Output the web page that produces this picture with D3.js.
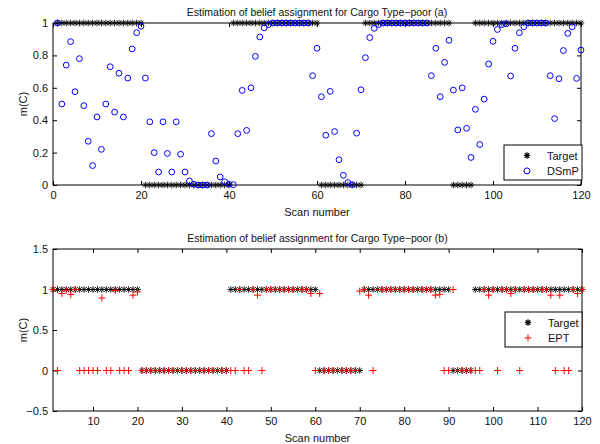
<!DOCTYPE html>
<html>
<head>
<meta charset="utf-8">
<script src="https://cdn.jsdelivr.net/npm/d3@7"></script>
<style>
body{margin:0;background:#fff;}
svg{font-family:"Liberation Sans",Arial,sans-serif;}
</style>
</head>
<body>
<div id="chart"></div>
<script>
// scan numbers 1..120
var scans = d3.range(1, 121);

// ground truth (same in both panels)
var target = [
  1,1,1,1,1,1,1,1,1,1, 1,1,1,1,1,1,1,1,1,1,
  0,0,0,0,0,0,0,0,0,0, 0,0,0,0,0,0,0,0,0,0,
  1,1,1,1,1,1,1,1,1,1, 1,1,1,1,1,1,1,1,1,1,
  0,0,0,0,0,0,0,0,0,0,
  1,1,1,1,1,1,1,1,1,1, 1,1,1,1,1,1,1,1,1,1,
  0,0,0,0,0,
  1,1,1,1,1,1,1,1,1,1, 1,1,1,1,1,1,1,1,1,1, 1,1,1,1,1
];

// panel (a)
var dsmp = [
  1.0, 0.50, 0.74, 0.885, 0.576, 0.78, 0.49, 0.27, 0.12, 0.42,
  0.22, 0.50, 0.73, 0.45, 0.69, 0.42, 0.66, 0.84, 0.94, 0.98,
  0.66, 0.39, 0.20, 0.08, 0.39, 0.195, 0.08, 0.39, 0.19, 0.08,
  0.025, 0.005, 0.0, 0.0, 0.0, 0.317, 0.148, 0.05, 0.02, 0.005,
  0.002, 0.317, 0.584, 0.337, 0.60, 0.794, 0.914, 0.97, 0.99, 1.0,
  1.0, 1.0, 1.0, 1.0, 1.0, 1.0, 1.0, 1.0, 0.675, 0.844,
  0.545, 0.307, 0.578, 0.33, 0.156, 0.06, 0.015, 0.002, 0.32, 0.588,
  0.786, 0.91, 0.967, 0.99, 1.0, 1.0, 1.0, 1.0, 1.0, 1.0,
  1.0, 1.0, 1.0, 1.0, 1.0, 0.675, 0.844, 0.545, 0.757, 0.893,
  0.586, 0.34, 0.60, 0.35, 0.17, 0.467, 0.25, 0.53, 0.747, 0.887,
  0.96, 0.99, 0.995, 0.673, 0.844, 0.94, 0.977, 1.0, 1.0, 1.0,
  1.0, 1.0, 0.675, 0.41, 0.656, 0.83, 0.936, 0.977, 0.658, 0.833
];

// panel (b)
var ept = [
  1.0, 0, 0.95, 0.99, 0.94, 1.0, 0, 0, 0, 0,
  0, 0.895, 0, 0, 0.99, 0, 0, 0, 0.93, 0.97,
  0, 0, 0, 0, 0, 0, 0, 0, 0, 0,
  0, 0, 0, 0, 0, 0, 0, 0, 0, 0,
  0, 0, 1.0, 0, 0, 1.0, 0.93, 0, 1.0, 1.0,
  1.0, 1.0, 1.0, 1.0, 1.0, 1.0, 1.0, 1.0, 0.95, 0,
  0.95, 0, 0, 0, 0, 0, 0, 0, 0, 0.98,
  1.0, 0.93, 0, 1.0, 1.0, 1.0, 1.0, 1.0, 1.0, 1.0,
  1.0, 1.0, 1.0, 1.0, 1.0, 1.0, 0.93, 0.94, 0, 0,
  1.0, 0, 0, 0, 0, 0, 0, 1.0, 0.93, 1.0,
  0, 1.0, 1.0, 0.95, 1.0, 0, 1.0, 1.0, 1.0, 1.0,
  1.0, 1.0, 0.93, 0, 0.93, 0, 0, 1.0, 0.95, 1.0
];

var xTicksA = [0, 20, 40, 60, 80, 100, 120];
var yTicksA = [0, 0.2, 0.4, 0.6, 0.8, 1];
var xTicksB = [10, 20, 30, 40, 50, 60, 70, 80, 90, 100, 110, 120];
var yTicksB = [-0.5, 0, 0.5, 1, 1.5];

var titleA = "Estimation of belief assignment for Cargo Type\u2212poor (a)";
var titleB = "Estimation of belief assignment for Cargo Type\u2212poor (b)";

var W = 600, H = 444;
var svg = d3.select("#chart").append("svg").attr("width", W).attr("height", H);

// matlab style asterisk
function star(s){
  var r = s/2, d = r*0.7071;
  return "M"+(-r)+",0H"+r+"M0,"+(-r)+"V"+r+
         "M"+(-d)+","+(-d)+"L"+d+","+d+"M"+(-d)+","+d+"L"+d+","+(-d);
}
function plus(s){
  var r = s/2;
  return "M"+(-r)+",0H"+r+"M0,"+(-r)+"V"+r;
}

function panel(o){
  var g = svg.append("g");
  var x = d3.scaleLinear().domain(o.xDomain).range([o.left, o.right]);
  var y = d3.scaleLinear().domain(o.yDomain).range([o.bottom, o.top]);
  var fmt = d3.format("");

  // inward ticks on all four sides
  g.append("g").attr("class","ax").attr("transform","translate(0,"+o.bottom+")")
    .call(d3.axisBottom(x).tickValues(o.xTicks).tickSize(-4).tickSizeOuter(0).tickPadding(6).tickFormat(fmt));
  g.append("g").attr("class","ax").attr("transform","translate(0,"+o.top+")")
    .call(d3.axisTop(x).tickValues(o.xTicks).tickSize(-4).tickSizeOuter(0).tickFormat(""));
  g.append("g").attr("class","ax").attr("transform","translate("+o.left+",0)")
    .call(d3.axisLeft(y).tickValues(o.yTicks).tickSize(-4).tickSizeOuter(0).tickPadding(5).tickFormat(fmt));
  g.append("g").attr("class","ax").attr("transform","translate("+o.right+",0)")
    .call(d3.axisRight(y).tickValues(o.yTicks).tickSize(-4).tickSizeOuter(0).tickFormat(""));
  g.selectAll(".ax .domain").remove();
  g.selectAll(".ax line").attr("stroke","#000");
  g.selectAll(".ax text").attr("fill","#111").style("font-size","11px")
    .style("font-family","'Liberation Sans',Arial,sans-serif");

  g.append("rect")
    .attr("x", o.left).attr("y", o.top)
    .attr("width", o.right-o.left).attr("height", o.bottom-o.top)
    .attr("fill","none").attr("stroke","#000").attr("stroke-width",1);

  // title and labels
  g.append("text").attr("x",(o.left+o.right)/2).attr("y",o.top-7)
    .attr("text-anchor","middle").style("font-size","10.5px").attr("fill","#111")
    .text(o.title);
  g.append("text").attr("x",(o.left+o.right)/2).attr("y",o.bottom+31)
    .attr("text-anchor","middle").style("font-size","11px").attr("fill","#111")
    .text("Scan number");
  g.append("text")
    .attr("transform","translate(27,"+((o.top+o.bottom)/2)+") rotate(-90)")
    .attr("text-anchor","middle").style("font-size","11px").attr("fill","#111")
    .text("m(C)");

  // target asterisks
  g.append("g").selectAll("path").data(scans).enter().append("path")
    .attr("transform", function(d,i){ return "translate("+x(d)+","+y(target[i])+")"; })
    .attr("d", star(6.5)).attr("fill","none").attr("stroke","#000").attr("stroke-width",0.9);

  // estimate
  if (o.kind == "circle"){
    g.append("g").selectAll("circle").data(scans).enter().append("circle")
      .attr("cx", function(d){ return x(d); })
      .attr("cy", function(d,i){ return y(o.values[i]); })
      .attr("r", 2.9).attr("fill","none").attr("stroke","#0000ff").attr("stroke-width",1);
  } else {
    g.append("g").selectAll("path").data(scans).enter().append("path")
      .attr("transform", function(d,i){ return "translate("+x(d)+","+y(o.values[i])+")"; })
      .attr("d", plus(7)).attr("fill","none").attr("stroke","#ff0000").attr("stroke-width",1);
  }

  // legend
  var L = o.legend;
  var lg = g.append("g");
  lg.append("rect").attr("x",L.x).attr("y",L.y).attr("width",L.w).attr("height",L.h)
    .attr("fill","#fff").attr("stroke","#000").attr("stroke-width",1);
  lg.append("path").attr("transform","translate("+(L.x+23)+","+(L.y+L.h*0.3)+")")
    .attr("d", star(6.5)).attr("fill","none").attr("stroke","#000").attr("stroke-width",1.2);
  if (o.kind == "circle"){
    lg.append("circle").attr("cx",L.x+23).attr("cy",L.y+L.h*0.74).attr("r",3)
      .attr("fill","none").attr("stroke","#0000ff");
  } else {
    lg.append("path").attr("transform","translate("+(L.x+23)+","+(L.y+L.h*0.74)+")")
      .attr("d", plus(7)).attr("fill","none").attr("stroke","#ff0000");
  }
  lg.selectAll("text.lab").data(o.names).enter().append("text").attr("class","lab")
    .attr("x", L.x+43).attr("y", function(d,i){ return L.y + L.h*(i==0?0.3:0.74) + 4; })
    .style("font-size","11px").attr("fill","#111").text(function(d){ return d; });
}

panel({
  xDomain:[0,120], yDomain:[0,1], left:53, right:581, top:23, bottom:185,
  xTicks:xTicksA, yTicks:yTicksA, title:titleA, values:dsmp, kind:"circle",
  names:["Target","DSmP"], legend:{x:504, y:145, w:78, h:35}
});
panel({
  xDomain:[1,120], yDomain:[-0.5,1.5], left:53, right:582, top:249, bottom:411,
  xTicks:xTicksB, yTicks:yTicksB, title:titleB, values:ept, kind:"plus",
  names:["Target","EPT"], legend:{x:505, y:312, w:77, h:35}
});
</script>
</body>
</html>
